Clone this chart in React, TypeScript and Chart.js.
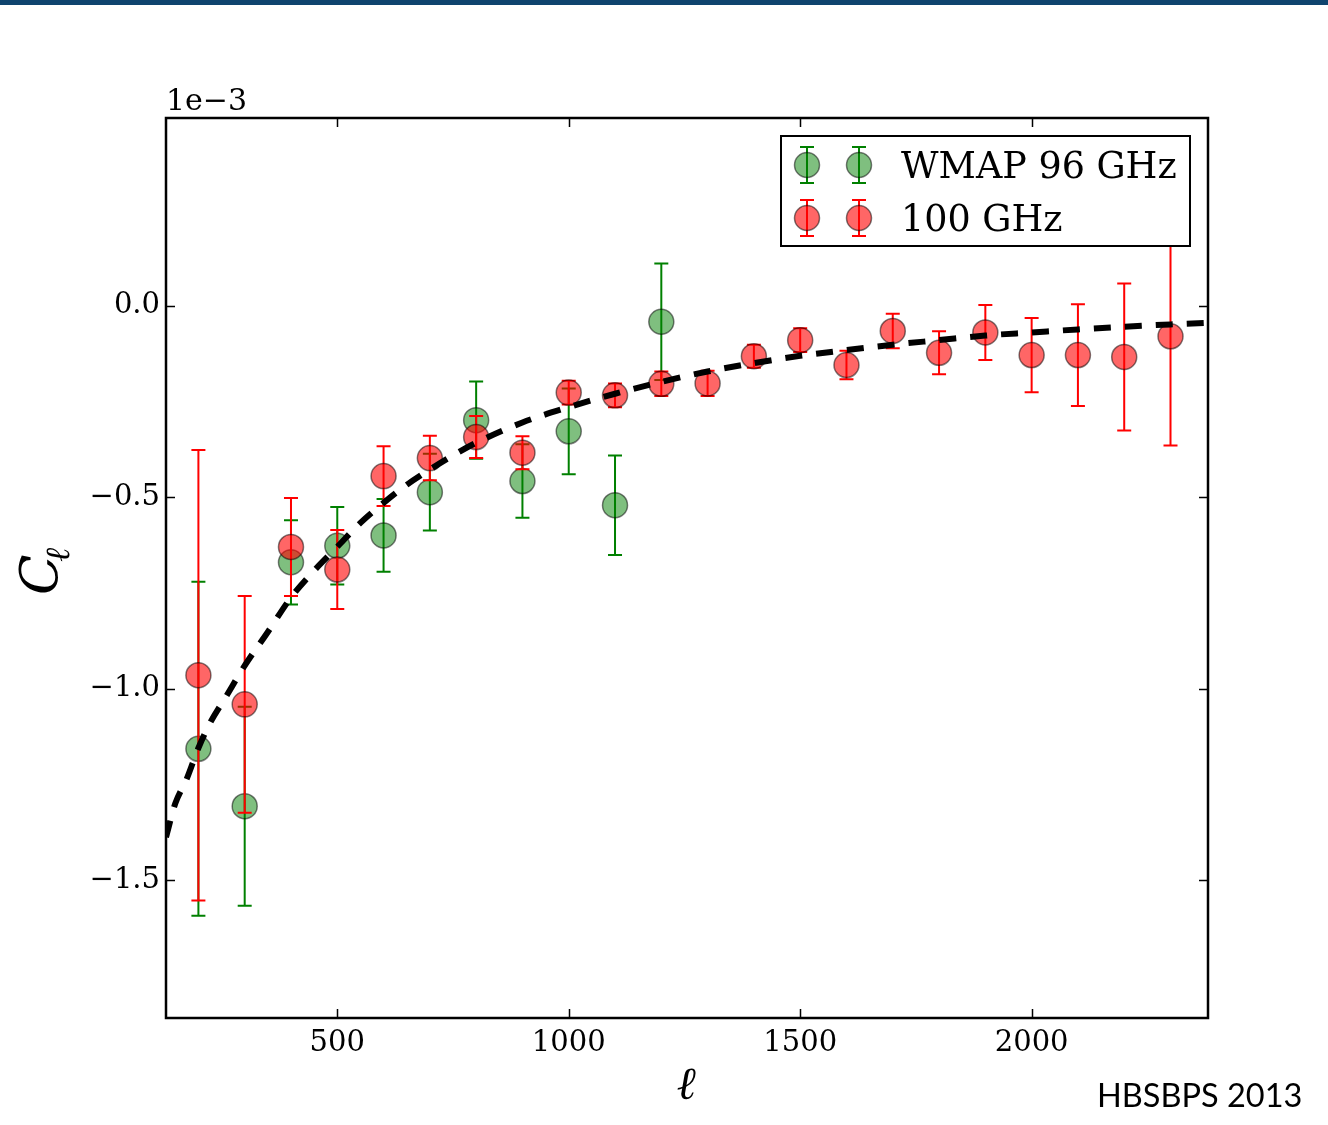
import React, { useEffect, useRef } from "react";
import { Chart, registerables } from "chart.js";

Chart.register(...registerables);

// ---- data (C_ell in units of 1e-3) ----
const ELL_WMAP = [200, 300, 400, 500, 600, 700, 800, 900, 1000, 1100, 1200];
const CL_WMAP = [-1.157, -1.307, -0.67, -0.627, -0.6, -0.487, -0.299, -0.458, -0.328, -0.521, -0.042];
const ERR_WMAP = [0.436, 0.26, 0.11, 0.101, 0.095, 0.1, 0.101, 0.096, 0.112, 0.13, 0.152];

const ELL_100 = [200, 300, 400, 500, 600, 700, 800, 900, 1000, 1100, 1200, 1300, 1400, 1500, 1600, 1700, 1800, 1900, 2000, 2100, 2200, 2300];
const CL_100 = [-0.965, -1.041, -0.63, -0.689, -0.445, -0.398, -0.343, -0.384, -0.227, -0.234, -0.204, -0.203, -0.132, -0.09, -0.155, -0.066, -0.123, -0.07, -0.129, -0.129, -0.134, -0.08];
const ERR_100 = [0.588, 0.283, 0.128, 0.103, 0.078, 0.058, 0.055, 0.043, 0.031, 0.031, 0.032, 0.033, 0.03, 0.031, 0.037, 0.045, 0.056, 0.072, 0.097, 0.133, 0.192, 0.285];

const MODEL_ELL = [130, 150, 175, 200, 225, 260, 300, 350, 400, 450, 500, 550, 600, 650, 700, 750, 800, 900, 1000, 1100, 1200, 1300, 1400, 1500, 1600, 1700, 1800, 1900, 2000, 2100, 2200, 2300, 2381];
const MODEL_CL = [-1.388, -1.3, -1.235, -1.155, -1.09, -1.02, -0.94, -0.852, -0.762, -0.692, -0.63, -0.567, -0.515, -0.468, -0.428, -0.391, -0.358, -0.305, -0.265, -0.23, -0.199, -0.172, -0.15, -0.131, -0.116, -0.102, -0.09, -0.078, -0.07, -0.062, -0.055, -0.049, -0.045];

const X_RANGE = [130, 2381];
const Y_RANGE = [-1.86, 0.49];
const X_TICKS = [500, 1000, 1500, 2000];
const X_TICK_LABELS = ["500", "1000", "1500", "2000"];
const Y_TICKS = [-1.5, -1.0, -0.5, 0.0];
const Y_TICK_LABELS = ["\u22121.5", "\u22121.0", "\u22120.5", "0.0"];

const LABEL_WMAP = "WMAP 96 GHz";
const LABEL_100 = "100 GHz";
const OFFSET_TEXT = "1e\u22123";
const CREDIT = "HBSBPS 2013";

const SERIF = "'DejaVu Serif', serif";

const errorBarPlugin = {
  id: "errorBars",
  beforeDatasetDraw(chart: any, args: any) {
    const ds = chart.data.datasets[args.index];
    if (!ds.errorBars) return;
    const { ctx, chartArea } = chart;
    const xs = chart.scales.x;
    const ys = chart.scales.y;
    ctx.save();
    ctx.beginPath();
    ctx.rect(chartArea.left, chartArea.top, chartArea.right - chartArea.left, chartArea.bottom - chartArea.top);
    ctx.clip();
    ctx.strokeStyle = ds.errorColor;
    ctx.lineWidth = 2;
    ds.data.forEach((p: any, i: number) => {
      const e = ds.errorBars[i];
      const px = xs.getPixelForValue(p.x);
      const t = ys.getPixelForValue(p.y + e);
      const b = ys.getPixelForValue(p.y - e);
      ctx.beginPath();
      ctx.moveTo(px, t);
      ctx.lineTo(px, b);
      ctx.moveTo(px - 7, t);
      ctx.lineTo(px + 7, t);
      ctx.moveTo(px - 7, b);
      ctx.lineTo(px + 7, b);
      ctx.stroke();
    });
    ctx.restore();
  },
};

const framePlugin = {
  id: "frame",
  afterDatasetsDraw(chart: any) {
    const { ctx, chartArea } = chart;
    const { left, right, top, bottom } = chartArea;
    const xs = chart.scales.x;
    const ys = chart.scales.y;
    ctx.save();
    ctx.strokeStyle = "#000";
    ctx.lineWidth = 1.5;
    const tl = 9;
    X_TICKS.forEach((v) => {
      const px = Math.round(xs.getPixelForValue(v)) + 0.5;
      ctx.beginPath();
      ctx.moveTo(px, bottom);
      ctx.lineTo(px, bottom - tl);
      ctx.moveTo(px, top);
      ctx.lineTo(px, top + tl);
      ctx.stroke();
    });
    Y_TICKS.forEach((v) => {
      const py = Math.round(ys.getPixelForValue(v)) + 0.5;
      ctx.beginPath();
      ctx.moveTo(left, py);
      ctx.lineTo(left + tl, py);
      ctx.moveTo(right, py);
      ctx.lineTo(right - tl, py);
      ctx.stroke();
    });
    ctx.lineWidth = 2.5;
    ctx.strokeRect(left, top, right - left, bottom - top);
    ctx.restore();
  },
};

function drawErrMarker(ctx: any, x: number, y: number, fill: string, bar: string) {
  ctx.strokeStyle = bar;
  ctx.lineWidth = 2;
  ctx.beginPath();
  ctx.moveTo(x, y - 18);
  ctx.lineTo(x, y + 18);
  ctx.moveTo(x - 7, y - 18);
  ctx.lineTo(x + 7, y - 18);
  ctx.moveTo(x - 7, y + 18);
  ctx.lineTo(x + 7, y + 18);
  ctx.stroke();
  ctx.beginPath();
  ctx.arc(x, y, 12.5, 0, Math.PI * 2);
  ctx.fillStyle = fill;
  ctx.fill();
  ctx.strokeStyle = "rgba(0,0,0,0.5)";
  ctx.lineWidth = 1.5;
  ctx.stroke();
}

const legendAndTextPlugin = {
  id: "legendText",
  afterDraw(chart: any) {
    const { ctx, chartArea } = chart;
    ctx.save();
    // legend box
    const bx = 781, by = 136, bw = 409, bh = 110;
    ctx.fillStyle = "#fff";
    ctx.fillRect(bx, by, bw, bh);
    ctx.strokeStyle = "#000";
    ctx.lineWidth = 2;
    ctx.strokeRect(bx, by, bw, bh);
    const entries = chart.data.datasets
      .filter((d: any) => d.errorBars)
      .sort((a: any, b: any) => b.order - a.order);
    entries.forEach((d: any, i: number) => {
      const cy = 165 + i * 53;
      drawErrMarker(ctx, 807, cy, d.backgroundColor, d.errorColor);
      drawErrMarker(ctx, 859, cy, d.backgroundColor, d.errorColor);
      ctx.fillStyle = "#000";
      ctx.font = `36.5px ${SERIF}`;
      ctx.textAlign = "left";
      ctx.textBaseline = "alphabetic";
      ctx.fillText(d.label, 901, cy + 13);
    });
    // offset text
    ctx.fillStyle = "#000";
    ctx.font = `30px ${SERIF}`;
    ctx.textAlign = "left";
    ctx.textBaseline = "alphabetic";
    ctx.fillText(OFFSET_TEXT, chartArea.left, 110);
    // y label C_ell
    ctx.save();
    ctx.translate(57, 595);
    ctx.rotate(-Math.PI / 2);
    ctx.font = `italic 53px ${SERIF}`;
    ctx.fillText("C", 0, 0);
    ctx.font = `italic 34px ${SERIF}`;
    ctx.fillText("\u2113", 33, 12);
    ctx.restore();
    // x label
    ctx.font = `italic 46px ${SERIF}`;
    ctx.textAlign = "center";
    ctx.fillText("\u2113", 686, 1099);
    // credit
    ctx.font = `32.5px Lato, sans-serif`;
    ctx.textAlign = "left";
    ctx.fillText(CREDIT, 1097, 1107);
    ctx.restore();
  },
};

export default function App() {
  const ref = useRef<HTMLCanvasElement | null>(null);
  useEffect(() => {
    const canvas = ref.current;
    if (!canvas) return;
    const chart = new Chart(canvas, {
      type: "scatter",
      data: {
        datasets: [
          {
            label: LABEL_WMAP,
            data: ELL_WMAP.map((x, i) => ({ x, y: CL_WMAP[i] })),
            pointRadius: 12.5,
            pointHoverRadius: 12.5,
            backgroundColor: "rgba(0,128,0,0.5)",
            borderColor: "rgba(0,0,0,0.5)",
            borderWidth: 1.5,
            order: 2,
            errorBars: ERR_WMAP,
            errorColor: "#008000",
          } as any,
          {
            label: LABEL_100,
            data: ELL_100.map((x, i) => ({ x, y: CL_100[i] })),
            pointRadius: 12.5,
            pointHoverRadius: 12.5,
            backgroundColor: "rgba(255,0,0,0.6)",
            borderColor: "rgba(0,0,0,0.5)",
            borderWidth: 1.5,
            order: 1,
            errorBars: ERR_100,
            errorColor: "#ff0000",
          } as any,
          {
            label: "model",
            data: MODEL_ELL.map((x, i) => ({ x, y: MODEL_CL[i] })),
            showLine: true,
            borderColor: "#000",
            borderWidth: 6,
            borderDash: [17, 14],
            borderCapStyle: "butt",
            cubicInterpolationMode: "monotone",
            pointRadius: 0,
            pointHoverRadius: 0,
            fill: false,
            order: 0,
          } as any,
        ],
      },
      options: {
        responsive: false,
        animation: false,
        devicePixelRatio: 1,
        layout: { padding: { left: 0, top: 118, right: 120, bottom: 0 } },
        plugins: { legend: { display: false }, tooltip: { enabled: false } },
        events: [],
        scales: {
          x: {
            type: "linear",
            min: X_RANGE[0],
            max: X_RANGE[1],
            grid: { display: false, drawTicks: false, tickLength: 0 },
            border: { display: false },
            afterBuildTicks: (s: any) => {
              s.ticks = X_TICKS.map((v) => ({ value: v }));
            },
            afterFit: (s: any) => {
              s.height = 107;
            },
            ticks: {
              autoSkip: false,
              maxRotation: 0,
              padding: 8,
              color: "#000",
              font: { family: SERIF, size: 29 },
              callback: (v: any) => X_TICK_LABELS[X_TICKS.indexOf(Number(v))] ?? "",
            },
          },
          y: {
            type: "linear",
            min: Y_RANGE[0],
            max: Y_RANGE[1],
            grid: { display: false, drawTicks: false, tickLength: 0 },
            border: { display: false },
            afterBuildTicks: (s: any) => {
              s.ticks = Y_TICKS.map((v) => ({ value: v }));
            },
            afterFit: (s: any) => {
              s.width = 166;
            },
            ticks: {
              autoSkip: false,
              padding: 6,
              color: "#000",
              font: { family: SERIF, size: 29 },
              callback: (v: any) => {
                const i = Y_TICKS.findIndex((t) => Math.abs(t - Number(v)) < 1e-9);
                return i >= 0 ? Y_TICK_LABELS[i] : "";
              },
            },
          },
        },
      },
      plugins: [errorBarPlugin, framePlugin, legendAndTextPlugin],
    } as any);
    return () => chart.destroy();
  }, []);
  return (
    <div style={{ position: "absolute", left: 0, top: 0, width: 1328, height: 1125, background: "#fff" }}>
      <div style={{ position: "absolute", left: 0, top: 0, width: 1328, height: 5, background: "#0f446e" }} />
      <canvas ref={ref} width={1328} height={1125} style={{ display: "block", width: 1328, height: 1125 }} />
    </div>
  );
}
